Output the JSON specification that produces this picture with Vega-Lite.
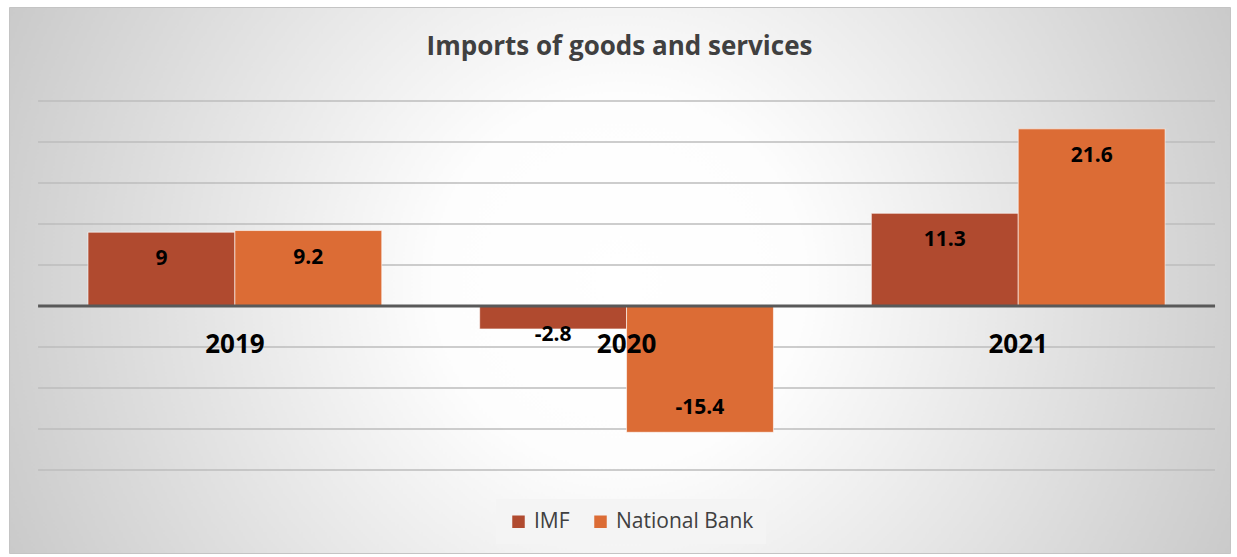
{
  "$schema": "https://vega.github.io/schema/vega-lite/v6.json",
  "width": 1221,
  "height": 546,
  "autosize": {"type": "none"},
  "padding": {"left": 9, "top": 7, "right": 7, "bottom": 4},
  "background": "#ffffff",
  "title": {
    "text": "Imports of goods and services",
    "font": "Open Sans",
    "fontSize": 26,
    "fontWeight": "bold",
    "color": "#404040",
    "anchor": "middle",
    "frame": "group",
    "baseline": "alphabetic",
    "offset": -74
  },
  "datasets": {
    "bars": [
      {"year": "2019", "series": "IMF", "value": 9},
      {"year": "2019", "series": "National Bank", "value": 9.2},
      {"year": "2020", "series": "IMF", "value": -2.8},
      {"year": "2020", "series": "National Bank", "value": -15.4},
      {"year": "2021", "series": "IMF", "value": 11.3},
      {"year": "2021", "series": "National Bank", "value": 21.6}
    ],
    "grid": [
      {"v": -20}, {"v": -15}, {"v": -10}, {"v": -5},
      {"v": 5}, {"v": 10}, {"v": 15}, {"v": 20}, {"v": 25}
    ],
    "zero": [{"v": 0}],
    "years": [{"year": "2019"}, {"year": "2020"}, {"year": "2021"}]
  },
  "layer": [
    {
      "data": {"name": "grid"},
      "mark": {"type": "rule", "stroke": "#bdbdbd", "strokeWidth": 1.5},
      "encoding": {
        "y": {"field": "v", "type": "quantitative", "scale": {"domain": [-30.12, 36.46], "nice": false, "zero": false}, "axis": null},
        "x": {"datum": "2019", "type": "nominal", "bandPosition": -0.17, "scale": {"domain": ["2019", "2020", "2021"], "paddingInner": 0.25, "paddingOuter": 0.1837, "align": 0.549}, "axis": null},
        "x2": {"datum": "2021", "bandPosition": 1.17}
      }
    },
    {
      "data": {"name": "bars"},
      "mark": {"type": "bar", "stroke": "#ffffff", "strokeOpacity": 0.6, "strokeWidth": 1},
      "encoding": {
        "x": {"field": "year", "type": "nominal"},
        "xOffset": {"field": "series", "type": "nominal", "scale": {"paddingInner": 0, "paddingOuter": 0}},
        "y": {"field": "value", "type": "quantitative"},
        "y2": {"datum": 0},
        "color": {
          "field": "series",
          "type": "nominal",
          "scale": {"domain": ["IMF", "National Bank"], "range": ["#b04a2f", "#dc6c35"]},
          "legend": {
            "title": null,
            "orient": "none",
            "direction": "horizontal",
            "legendX": 487,
            "legendY": 492,
            "padding": 12,
            "fillColor": "#f4f4f4",
            "symbolType": "square",
            "symbolSize": 156,
            "symbolStrokeWidth": 0,
            "labelFont": "Open Sans",
            "labelFontSize": 21,
            "labelColor": "#404040",
            "labelOffset": 5,
            "columnPadding": 20
          }
        }
      }
    },
    {
      "data": {"name": "zero"},
      "mark": {"type": "rule", "stroke": "#595959", "strokeWidth": 3},
      "encoding": {
        "y": {"field": "v", "type": "quantitative"},
        "x": {"datum": "2019", "type": "nominal", "bandPosition": -0.17},
        "x2": {"datum": "2021", "bandPosition": 1.17}
      }
    },
    {
      "data": {"name": "bars"},
      "transform": [{"filter": "datum.value > 0"}],
      "mark": {"type": "text", "font": "Open Sans", "fontSize": 21, "fontWeight": "bold", "color": "#000000", "baseline": "middle", "dy": 27},
      "encoding": {
        "x": {"field": "year", "type": "nominal"},
        "xOffset": {"field": "series", "type": "nominal"},
        "y": {"field": "value", "type": "quantitative"},
        "text": {"field": "value", "type": "nominal"}
      }
    },
    {
      "data": {"name": "bars"},
      "transform": [{"filter": "datum.value < -5"}],
      "mark": {"type": "text", "font": "Open Sans", "fontSize": 21, "fontWeight": "bold", "color": "#000000", "baseline": "middle", "dy": -24},
      "encoding": {
        "x": {"field": "year", "type": "nominal"},
        "xOffset": {"field": "series", "type": "nominal"},
        "y": {"field": "value", "type": "quantitative"},
        "text": {"field": "value", "type": "nominal"}
      }
    },
    {
      "data": {"name": "bars"},
      "transform": [{"filter": "datum.value < 0 && datum.value >= -5"}],
      "mark": {"type": "text", "font": "Open Sans", "fontSize": 21, "fontWeight": "bold", "color": "#000000", "baseline": "middle", "dy": 6},
      "encoding": {
        "x": {"field": "year", "type": "nominal"},
        "xOffset": {"field": "series", "type": "nominal"},
        "y": {"field": "value", "type": "quantitative"},
        "text": {"field": "value", "type": "nominal"}
      }
    },
    {
      "data": {"name": "years"},
      "mark": {"type": "text", "font": "Open Sans", "fontSize": 26, "fontWeight": "bold", "color": "#000000", "baseline": "middle", "dy": 39},
      "encoding": {
        "x": {"field": "year", "type": "nominal"},
        "y": {"datum": 0, "type": "quantitative"},
        "text": {"field": "year", "type": "nominal"}
      }
    }
  ],
  "config": {
    "view": {
      "stroke": "#c4c4c4",
      "strokeWidth": 1,
      "fill": {
        "gradient": "radial",
        "x1": 0.5, "y1": 0.5, "r1": 0,
        "x2": 0.5, "y2": 0.5, "r2": 0.6,
        "stops": [
          {"offset": 0, "color": "#ffffff"},
          {"offset": 0.25, "color": "#fdfdfd"},
          {"offset": 1, "color": "#c3c3c3"}
        ]
      }
    }
  }
}
